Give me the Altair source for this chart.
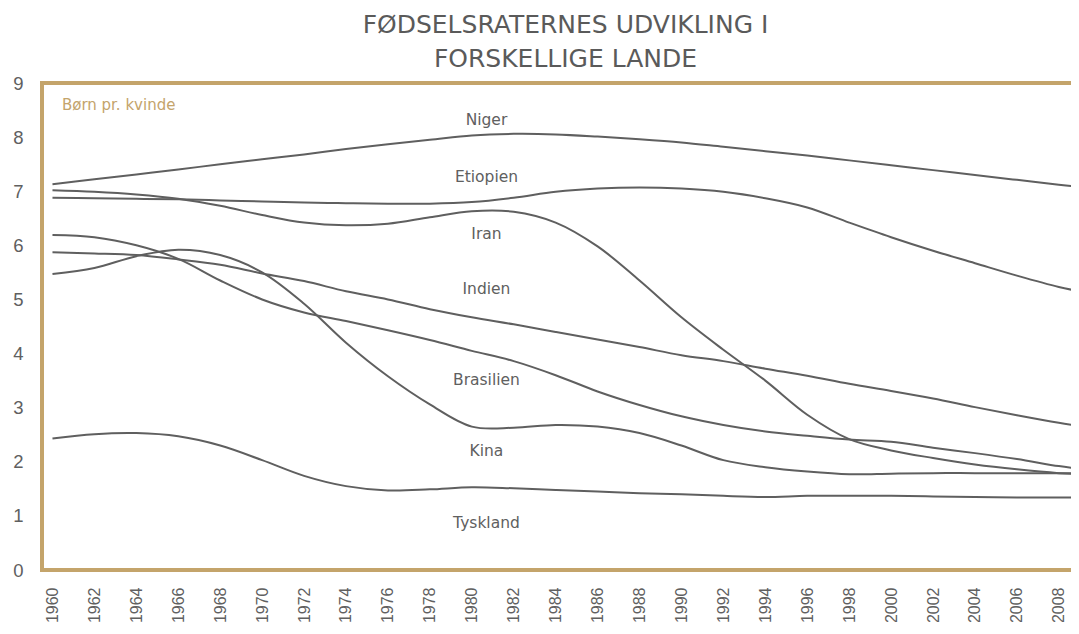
import altair as alt
import pandas as pd

# ---- data (total fertility rate, children per woman) ----
years = [1960, 1962, 1964, 1966, 1968, 1970, 1972, 1974, 1976, 1978, 1980, 1982, 1984,
         1986, 1988, 1990, 1992, 1994, 1996, 1998, 2000, 2002, 2004, 2006, 2008, 2009]

niger = [7.13, 7.22, 7.31, 7.40, 7.50, 7.59, 7.68, 7.78, 7.87, 7.95, 8.03, 8.06, 8.05,
         8.01, 7.96, 7.90, 7.82, 7.74, 7.66, 7.57, 7.48, 7.39, 7.30, 7.21, 7.12, 7.08]
etiopien = [6.88, 6.87, 6.86, 6.85, 6.83, 6.81, 6.79, 6.78, 6.77, 6.77, 6.80, 6.88, 6.99,
            7.05, 7.07, 7.05, 6.99, 6.87, 6.70, 6.42, 6.15, 5.90, 5.67, 5.44, 5.23, 5.15]
iran = [7.02, 6.99, 6.94, 6.86, 6.73, 6.56, 6.42, 6.37, 6.40, 6.52, 6.63, 6.62, 6.42,
        5.98, 5.35, 4.67, 4.07, 3.50, 2.87, 2.42, 2.21, 2.07, 1.95, 1.86, 1.79, 1.77]
indien = [5.87, 5.85, 5.82, 5.74, 5.64, 5.48, 5.34, 5.15, 5.00, 4.82, 4.67, 4.54, 4.40,
          4.26, 4.12, 3.97, 3.86, 3.72, 3.59, 3.44, 3.31, 3.17, 3.01, 2.86, 2.72, 2.66]
brasilien = [6.19, 6.15, 6.00, 5.75, 5.35, 5.00, 4.76, 4.60, 4.43, 4.25, 4.05, 3.86, 3.60,
             3.30, 3.05, 2.84, 2.68, 2.56, 2.48, 2.41, 2.37, 2.26, 2.16, 2.05, 1.92, 1.87]
kina = [5.47, 5.58, 5.80, 5.92, 5.82, 5.50, 4.92, 4.20, 3.58, 3.06, 2.65, 2.63, 2.68,
        2.65, 2.53, 2.30, 2.03, 1.90, 1.82, 1.77, 1.78, 1.79, 1.79, 1.79, 1.79, 1.79]
tyskland = [2.43, 2.51, 2.53, 2.47, 2.30, 2.03, 1.74, 1.55, 1.47, 1.49, 1.53, 1.51, 1.48,
            1.45, 1.42, 1.40, 1.37, 1.35, 1.37, 1.37, 1.37, 1.36, 1.35, 1.34, 1.34, 1.34]

country_names = ["Niger", "Etiopien", "Iran", "Indien", "Brasilien", "Kina", "Tyskland"]
country_series = [niger, etiopien, iran, indien, brasilien, kina, tyskland]

# series label positions (in data units)
label_names = ["Niger", "Etiopien", "Iran", "Indien", "Brasilien", "Kina", "Tyskland"]
label_years = [1980.7, 1980.7, 1980.7, 1980.7, 1980.7, 1980.7, 1980.7]
label_values = [8.32, 7.26, 6.21, 5.19, 3.51, 2.20, 0.87]

tick_years = list(range(1960, 2009, 2))
y_ticks = list(range(0, 10))

unit_text = ["Børn pr. kvinde"]
unit_year = [1960.45]
unit_value = [8.59]

title_lines = ["FØDSELSRATERNES UDVIKLING I", "FORSKELLIGE LANDE"]

X_MIN, X_MAX = 1959.5, 2009.44
Y_MIN, Y_MAX = 0, 9

# frame segments (left, bottom, top) in data units; the right side runs off the page
frame_x0 = [X_MIN, X_MIN, X_MIN]
frame_x1 = [X_MIN, X_MAX, X_MAX]
frame_y0 = [Y_MIN, Y_MIN, Y_MAX]
frame_y1 = [Y_MAX, Y_MIN, Y_MAX]

# ---- tables ----
rows = []
for name, vals in zip(country_names, country_series):
    for yr, v in zip(years, vals):
        rows.append({"year": yr, "value": v, "country": name})
df = pd.DataFrame(rows)
labels_df = pd.DataFrame({"year": label_years, "value": label_values, "name": label_names})
unit_df = pd.DataFrame({"year": unit_year, "value": unit_value, "text": unit_text})
frame_df = pd.DataFrame({"year": frame_x0, "x1": frame_x1, "value": frame_y0, "y1": frame_y1})

GOLD = "#C4A46B"
LINE = "#5f5f5f"
TXT = "#606060"
W, H = 1047, 487

xscale = alt.Scale(domain=[X_MIN, X_MAX], nice=False, zero=False)
yscale = alt.Scale(domain=[Y_MIN, Y_MAX], nice=False, zero=True)

x_axis = alt.Axis(values=tick_years, format="d", labelAngle=270,
                  labelFont="Liberation Sans", labelFontSize=16,
                  labelColor=TXT, labelPadding=17, labelFlush=False,
                  labelOverlap=False, ticks=False, grid=False, domain=False)
y_axis = alt.Axis(values=y_ticks, format="d", labelFont="Liberation Sans",
                  labelFontSize=18.5, labelColor=TXT, labelPadding=19,
                  labelFlush=False, ticks=False, grid=False, domain=False)

X = alt.X("year:Q", scale=xscale, title=None, axis=x_axis)
Y = alt.Y("value:Q", scale=yscale, title=None, axis=y_axis)

lines = alt.Chart(df).mark_line(
    interpolate="catmull-rom", clip=True, strokeWidth=2, color=LINE
).encode(x=X, y=Y, detail="country:N")

labels = alt.Chart(labels_df).mark_text(
    font="DejaVu Sans", fontSize=15.5, color=TXT, align="center", baseline="middle"
).encode(x=X, y=Y, text="name:N")

unit = alt.Chart(unit_df).mark_text(
    font="DejaVu Sans", fontSize=15, color=GOLD, align="left", baseline="middle"
).encode(x=X, y=Y, text="text:N")

frame = alt.Chart(frame_df).mark_rule(
    color=GOLD, strokeWidth=4, strokeCap="square"
).encode(x=X, x2="x1:Q", y=Y, y2="y1:Q")

chart = alt.layer(lines, labels, unit, frame).properties(
    width=W,
    height=H,
    autosize=alt.AutoSizeParams(type="none"),
    padding={"left": 34, "top": 75, "right": -18, "bottom": 52},
    title=alt.Title(title_lines, font="DejaVu Sans", fontSize=25,
                    fontWeight="normal", color="#5a5a5a", lineHeight=34,
                    anchor="middle", baseline="bottom", offset=12, dy=35, dx=0),
).configure_view(stroke=None, strokeWidth=0)

chart.save("out.html", embed_options={"renderer": "svg", "actions": False})
